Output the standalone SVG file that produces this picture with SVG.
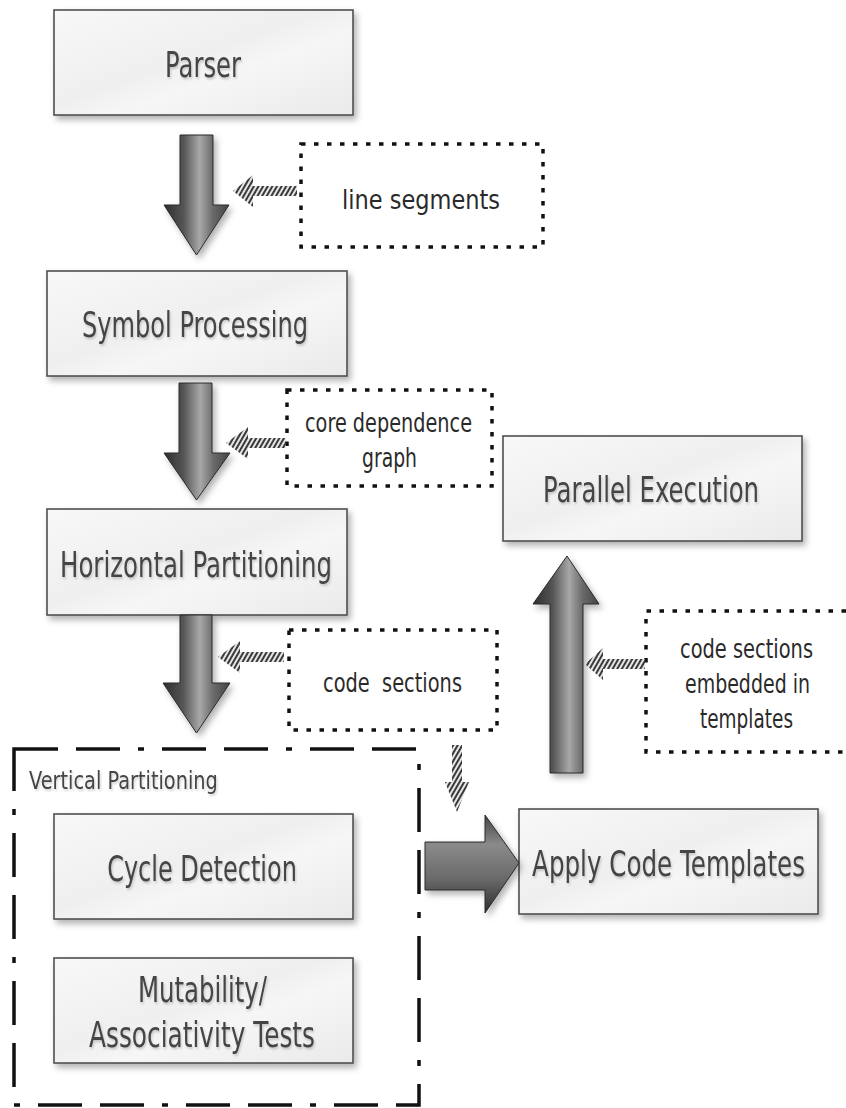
<svg xmlns="http://www.w3.org/2000/svg" width="846" height="1108" viewBox="0 0 846 1108">
<defs>
<linearGradient id="boxFill" x1="0" y1="0" x2="1" y2="1">
<stop offset="0" stop-color="#f8f8f8"/>
<stop offset="0.45" stop-color="#efefef"/>
<stop offset="0.6" stop-color="#f6f6f6"/>
<stop offset="1" stop-color="#eaeaea"/>
</linearGradient>
<linearGradient id="arrV" x1="0" y1="0" x2="1" y2="0">
<stop offset="0" stop-color="#2e2e2e"/>
<stop offset="0.3" stop-color="#555"/>
<stop offset="0.55" stop-color="#a8a8a8"/>
<stop offset="0.75" stop-color="#6a6a6a"/>
<stop offset="1" stop-color="#444"/>
</linearGradient>
<linearGradient id="arrH" x1="0" y1="0" x2="0" y2="1">
<stop offset="0" stop-color="#444"/>
<stop offset="0.3" stop-color="#8a8a8a"/>
<stop offset="0.65" stop-color="#6a6a6a"/>
<stop offset="1" stop-color="#2e2e2e"/>
</linearGradient>
<pattern id="hatch" width="4" height="4" patternUnits="userSpaceOnUse" patternTransform="rotate(30)">
<rect width="4" height="4" fill="#e6e6e6"/>
<rect width="2" height="4" fill="#3a3a3a"/>
</pattern>
<filter id="shadow" x="-10%" y="-10%" width="130%" height="140%">
<feDropShadow dx="3" dy="4" stdDeviation="3" flood-color="#000" flood-opacity="0.3"/>
</filter>
<filter id="tshadow" x="-10%" y="-40%" width="125%" height="190%">
<feDropShadow dx="1.5" dy="2" stdDeviation="1.2" flood-color="#000" flood-opacity="0.18"/>
</filter>
<style>
.box{fill:url(#boxFill);stroke:#4f4f4f;stroke-width:1.6;filter:url(#shadow)}
.big{font-family:"DejaVu Sans","Liberation Sans",sans-serif;font-size:35px;fill:#444;text-anchor:middle;filter:url(#tshadow)}
.sm{font-family:"DejaVu Sans","Liberation Sans",sans-serif;font-size:27px;fill:#2a2a2a;text-anchor:middle}
.lbl{font-family:"DejaVu Sans","Liberation Sans",sans-serif;font-size:24px;fill:#444;filter:url(#tshadow)}
.dot{fill:none;stroke:#111;stroke-width:3.5;stroke-dasharray:4.5 8.5}
.dd{fill:none;stroke:#111;stroke-width:3.5;stroke-dasharray:44 18 44 18 6 18}
.av{fill:url(#arrV);stroke:#2a2a2a;stroke-width:1;filter:url(#shadow)}
.ah{fill:url(#arrH);stroke:#2a2a2a;stroke-width:1;filter:url(#shadow)}
.hz{fill:url(#hatch);stroke:none}
</style>
</defs>

<g id="vertical-partitioning">
<rect class="dd" x="14" y="749" width="405" height="356"/>
<text class="lbl" transform="translate(29,789) scale(0.8,1)" textLength="236" lengthAdjust="spacingAndGlyphs">Vertical Partitioning</text>
</g>

<g id="parser">
<rect class="box" x="54" y="10" width="299" height="105"/>
<text class="big" transform="translate(203,77) scale(0.69,1)" textLength="110" lengthAdjust="spacingAndGlyphs">Parser</text>
</g>

<g id="symbol-processing">
<rect class="box" x="47" y="271" width="300" height="105"/>
<text class="big" transform="translate(195,337) scale(0.69,1)" textLength="327.5" lengthAdjust="spacingAndGlyphs">Symbol Processing</text>
</g>

<g id="horizontal-partitioning">
<rect class="box" x="47" y="509" width="300" height="106"/>
<text class="big" transform="translate(196,577) scale(0.69,1)" textLength="394" lengthAdjust="spacingAndGlyphs">Horizontal Partitioning</text>
</g>

<g id="cycle-detection">
<rect class="box" x="54" y="814" width="299" height="105"/>
<text class="big" transform="translate(202,881) scale(0.69,1)" textLength="275" lengthAdjust="spacingAndGlyphs">Cycle Detection</text>
</g>

<g id="mutability">
<rect class="box" x="54" y="958" width="299" height="105"/>
<text class="big" transform="translate(202.5,1002) scale(0.69,1)" textLength="187" lengthAdjust="spacingAndGlyphs">Mutability/</text>
<text class="big" transform="translate(202,1047) scale(0.69,1)" textLength="327.5" lengthAdjust="spacingAndGlyphs">Associativity Tests</text>
</g>

<g id="parallel-execution">
<rect class="box" x="503" y="436" width="299" height="105"/>
<text class="big" transform="translate(651,502) scale(0.69,1)" textLength="313" lengthAdjust="spacingAndGlyphs">Parallel Execution</text>
</g>

<g id="apply-code-templates">
<rect class="box" x="519" y="809" width="299" height="105"/>
<text class="big" transform="translate(668.5,876) scale(0.69,1)" textLength="395.5" lengthAdjust="spacingAndGlyphs">Apply Code Templates</text>
</g>

<g id="note-line-segments">
<rect class="dot" x="301" y="144" width="242" height="103"/>
<text class="sm" transform="translate(421,209) scale(0.8,1)" textLength="197.5" lengthAdjust="spacingAndGlyphs">line segments</text>
</g>

<g id="note-core-dependence">
<rect class="dot" x="287" y="390" width="205" height="96"/>
<text class="sm" transform="translate(388.5,432) scale(0.8,1)" textLength="208.75" lengthAdjust="spacingAndGlyphs">core dependence</text>
<text class="sm" transform="translate(389.5,467) scale(0.8,1)" textLength="68.75" lengthAdjust="spacingAndGlyphs">graph</text>
</g>

<g id="note-code-sections">
<rect class="dot" x="289" y="630" width="208" height="100"/>
<text class="sm" transform="translate(392.5,692) scale(0.8,1)" textLength="173.75" lengthAdjust="spacingAndGlyphs" xml:space="preserve">code  sections</text>
</g>

<g id="note-embedded">
<path class="dot" d="M846,611 H646 V752 H846"/>
<text class="sm" transform="translate(746.5,658) scale(0.8,1)" textLength="166.25" lengthAdjust="spacingAndGlyphs">code sections</text>
<text class="sm" transform="translate(747.5,693) scale(0.8,1)" textLength="156.25" lengthAdjust="spacingAndGlyphs">embedded in</text>
<text class="sm" transform="translate(746.5,728) scale(0.8,1)" textLength="116.25" lengthAdjust="spacingAndGlyphs">templates</text>
</g>

<g id="connectors">
<path class="av" d="M180,135 H213 V205 H229 L196.5,255 L164,205 H180 Z"/>
<path class="av" d="M179,383 H212 V453 H230 L196.5,500 L164,453 H179 Z"/>
<path class="av" d="M180,615 H212 V683 H230 L196.5,733 L163,683 H180 Z"/>
<path class="av" d="M550,773 V604 H533 L567,556 L599,604 H583 V773 Z"/>
<path class="ah" d="M425,842 H485 V815 L519,863 L485,913 V890 H425 Z"/>
<path class="hz" d="M297,186 V196 H253 V207 L233,191 L253,175 V186 Z"/>
<path class="hz" d="M286,438 V448 H248 V459 L226,443 L248,427 V438 Z"/>
<path class="hz" d="M284,652 V662 H240 V673 L218,657 L240,641 V652 Z"/>
<path class="hz" d="M645,659 V669 H603 V680 L585,664 L603,648 V659 Z"/>
<path class="hz" d="M452,745 H462 V782 H469 L457,812 L445,782 H452 Z"/>
</g>
</svg>
